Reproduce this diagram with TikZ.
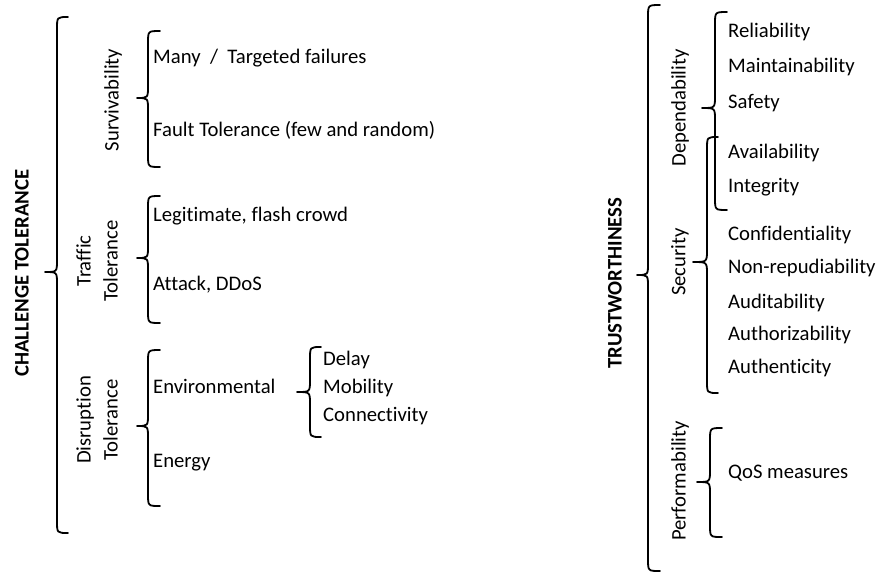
\documentclass[tikz,border=0pt]{standalone}
\usepackage{fontspec}
\setmainfont[Ligatures=NoCommon]{Carlito}
\begin{document}
\begin{tikzpicture}[x=1pt,y=-1pt,
  bracestyle/.style={line width=1.8pt,line cap=round,line join=round},
  item/.style={anchor=west,inner sep=0pt,font=\fontsize{20.7}{24}\selectfont},
  side/.style={rotate=90,inner sep=0pt,align=center,font=\fontsize{20.7}{27}\selectfont},
  title/.style={rotate=90,inner sep=0pt,font=\fontsize{20.7}{24}\selectfont\bfseries}]
\useasboundingbox (0,0) rectangle (877,574);
% curly brace: #1 end x, #2 spine x, #3 tip x, #4 top y, #5 tip y, #6 bottom y
\newcommand{\wbrace}[6]{%
  \draw[bracestyle] (#1,#4) .. controls (#2,#4) .. (#2,{#4+12})
    -- (#2,{#5-12}) .. controls (#2,#5) .. (#3,#5)
    .. controls (#2,#5) .. (#2,{#5+12})
    -- (#2,{#6-12}) .. controls (#2,#6) .. (#1,#6);}

% ---- challenge tolerance ----
\node[title] (ct) at (22,273) {CHALLENGE TOLERANCE};
\wbrace{68}{57}{45}{17}{272}{533}

\node[side] (surv) at (113,100) {Survivability};
\wbrace{160}{148}{137}{31}{98}{167}
\node[item] (many) at (153,58) {Many \ / \ Targeted failures};
\node[item] (fault) at (153,130) {Fault Tolerance (few and random)};

\node[side] (traf) at (97,261) {Traffic\\Tolerance};
\wbrace{160}{148}{137}{196}{258}{323}
\node[item] (legit) at (153,216) {Legitimate, flash crowd};
\node[item] (attack) at (153,285) {Attack, DDoS};

\node[side] (disr) at (97,420) {Disruption\\Tolerance};
\wbrace{160}{148}{137}{350}{426}{506}
\node[item] (env) at (153,386) {Environmental};
\node[item] (energy) at (153,463) {Energy};

\wbrace{321}{310}{297}{347}{392}{437}
\node[item] (delay) at (323,360) {Delay};
\node[item] (mob) at (323,388) {Mobility};
\node[item] (conn) at (323,416) {Connectivity};

% ---- trustworthiness ----
\node[title] (tw) at (615,283) {TRUSTWORTHINESS};
\wbrace{660}{648}{637}{5}{275}{571}

\node[side] (dep) at (680,108) {Dependability};
\wbrace{727}{715}{702}{12}{108}{210}
\node[side] (sec) at (680,262) {Security};
\wbrace{718}{707}{693}{137}{262}{393}
\node[item] (rel) at (728,32) {Reliability};
\node[item] (main) at (728,67) {Maintainability};
\node[item] (saf) at (728,103) {Safety};
\node[item] (avail) at (728,153) {Availability};
\node[item] (integ) at (728,187) {Integrity};
\node[item] (conf) at (728,235) {Confidentiality};
\node[item] (nonr) at (728,268) {Non-repudiability};
\node[item] (audit) at (728,303) {Auditability};
\node[item] (authz) at (728,335) {Authorizability};
\node[item] (authn) at (728,368) {Authenticity};

\node[side] (perf) at (680,481) {Performability};
\wbrace{722}{710}{697}{428}{482}{537}
\node[item] (qos) at (728,473) {QoS measures};
\end{tikzpicture}
\end{document}
